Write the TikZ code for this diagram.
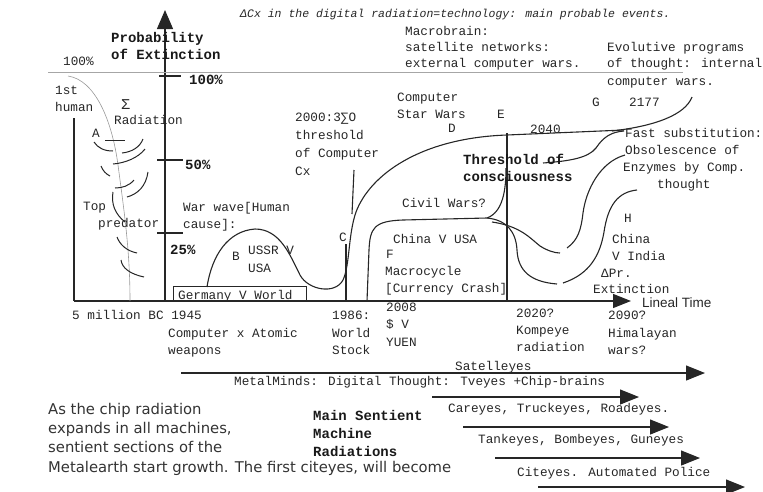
\documentclass[tikz,border=0pt]{standalone}
\usepackage{fontspec}
\setmainfont{Liberation Mono}
\newfontfamily\monofam{Liberation Mono}
\newfontfamily\sansfam{DejaVu Sans}
\newfontfamily\helvfam{Liberation Sans}
\usetikzlibrary{arrows.meta}
\begin{document}
\begin{tikzpicture}[x=1pt,y=-1pt,
  txt/.style={anchor=base west, inner sep=0pt, text=black!85, font=\monofam\fontsize{12.7}{15}\selectfont},
  txtb/.style={anchor=base west, inner sep=0pt, text=black!90, font=\monofam\bfseries\fontsize{14}{17}\selectfont},
  txti/.style={anchor=base west, inner sep=0pt, text=black!85, font=\monofam\itshape\fontsize{11.5}{14}\selectfont},
  txts/.style={anchor=base west, inner sep=0pt, text=black!80, font=\sansfam\fontsize{14.8}{15}\selectfont},
  txth/.style={anchor=base west, inner sep=0pt, text=black!85, font=\helvfam\fontsize{13.5}{15}\selectfont},
  ln/.style={line width=1.1pt, black!85},
  thin/.style={line width=0.5pt, black!35},
  sw/.style={line width=1pt, black!85},
  bigarrow/.style={line width=1.2pt, black!85, -{Triangle[length=19pt,width=15pt]}}
]
\useasboundingbox (0,0) rectangle (763,491);

% axes
\coordinate (vaxb) at (165,301);
\coordinate (vaxt) at (165,10);
\draw[line width=1.2pt, black!85, -{Triangle[length=19pt,width=16pt]}] (vaxb) -- (vaxt);
\coordinate (haxl) at (74,301);
\coordinate (haxr) at (631,301);
\draw[line width=1.2pt, black!85, -{Triangle[length=18pt,width=14pt]}] (haxl) -- (haxr);
\coordinate (lvt) at (74,118);
\draw[ln] (lvt) -- (haxl);
\coordinate (gl1) at (48,72);
\coordinate (gl2) at (683,72);
\draw[thin] (gl1) -- (gl2);

% ticks
\draw[ln] (159,76) -- (181,76);
\draw[ln] (157,160) -- (183,160);
\draw[ln] (157,233) -- (183,233);

% grey extinction curve
\draw[line width=0.6pt, black!40] (68,76) .. controls (95,80) and (112,120) .. (118,165) .. controls (124,210) and (130,250) .. (130,301);

% swirl arcs
\draw[sw] (105,140) -- (125,140);
\draw[sw] (94,142) .. controls (98,148) and (104,151) .. (113,151);
\draw[sw] (122,153) .. controls (132,152) and (140,147) .. (143,139);
\draw[sw] (113,164) .. controls (125,163) and (138,158) .. (145,149);
\draw[sw] (101,166) .. controls (103,171) and (106,174) .. (110,176);
\draw[sw] (115,188) .. controls (122,188) and (129,186) .. (134,180);
\draw[sw] (127,197) .. controls (138,194) and (146,186) .. (148,172);
\draw[sw] (113,192) .. controls (111,204) and (115,214) .. (125,222);
\draw[sw] (117,237) .. controls (120,245) and (127,251) .. (137,253);
\draw[sw] (121,260) .. controls (122,268) and (130,274) .. (144,277);

% Germany box
\node[draw, line width=1.2pt, black!85, inner sep=0pt, minimum width=133pt, minimum height=15pt, anchor=north west] (gbox) at (173,286) {};
\node[txt] (tger) at (178,299) {Germany V World};

% main curve
\draw[ln] (207,287) .. controls (212,255) and (228,231) .. (255,229)
  .. controls (280,229) and (290,255) .. (300,275)
  .. controls (308,290) and (335,295) .. (343,280)
  .. controls (350,265) and (348,235) .. (356,212)
  .. controls (370,175) and (420,138) .. (507,135)
  -- (624,130);
\draw[ln] (612,131) .. controls (655,126) and (685,115) .. (692,97);
% threshold curve
\draw[ln] (543,163) .. controls (570,161) and (588,158) .. (596,148)
  .. controls (604,136) and (612,132) .. (624,131);
% 1986 line
\draw[ln] (354,170) -- (352,214);
\draw[ln] (346,244) -- (346,301);
% 2020 line
\draw[ln] (507,133) -- (507,301);
% civil wars curve
\draw[ln] (506,168) .. controls (506,190) and (503,212) .. (487,218)
  -- (403,220) .. controls (374,221) and (370,228) .. (369,250) -- (367,301);
% lower branch
\draw[ln] (487,218) .. controls (507,220) and (516,232) .. (517,250)
  .. controls (518,272) and (532,282) .. (557,284);
\draw[ln] (563,283) .. controls (590,274) and (600,255) .. (604,232)
  .. controls (608,205) and (618,192) .. (637,190);
% upper branch
\draw[ln] (492,222) .. controls (520,226) and (530,238) .. (540,246)
  .. controls (548,251) and (555,253) .. (560,253);
\draw[ln] (567,248) .. controls (578,240) and (581,230) .. (583,213)
  .. controls (586,190) and (600,162) .. (625,155);

% bottom arrows
\coordinate (a1s) at (181,373); \coordinate (a1e) at (705,373);
\coordinate (a2s) at (432,397); \coordinate (a2e) at (639,397);
\coordinate (a3s) at (463,427); \coordinate (a3e) at (669,427);
\coordinate (a4s) at (495,458); \coordinate (a4e) at (700,458);
\coordinate (a5s) at (538,487); \coordinate (a5e) at (745,487);
\draw[bigarrow] (a1s) -- (a1e);
\draw[bigarrow] (a2s) -- (a2e);
\draw[bigarrow] (a3s) -- (a3e);
\draw[bigarrow] (a4s) -- (a4e);
\draw[bigarrow] (a5s) -- (a5e);

% texts top
\node[txti] (title) at (240,17) {ΔCx in the digital radiation=technology: main probable events.};
\node[txtb] (prob1) at (111,42) {Probability};
\node[txtb] (prob2) at (111,59) {of Extinction};
\node[txt] (p100) at (63,65) {100\%};
\node[txt] (first1) at (55,94) {1st};
\node[txt] (first2) at (55,111) {human};
\node[txt, font=\monofam\fontsize{15}{15}\selectfont] (sig) at (121,109) {Σ};
\node[txt] (rad) at (114,124) {Radiation};
\node[txt] (lA) at (92,137) {A};
\node[txtb] (t100) at (189,84) {100\%};
\node[txtb] (t50) at (185,169) {50\%};
\node[txtb] (t25) at (170,254) {25\%};
\node[txt] (top1) at (83,210) {Top};
\node[txt] (top2) at (98,227) {predator};
\node[txt] (war1) at (183,211) {War wave[Human};
\node[txt] (war2) at (183,228) {cause]:};
\node[txt] (lB) at (232,260) {B};
\node[txt] (ussr1) at (248,254) {USSR V};
\node[txt] (ussr2) at (248,272) {USA};
\node[txt] (y2000a) at (295,121) {2000:3∑O};
\node[txt] (y2000b) at (295,139) {threshold};
\node[txt] (y2000c) at (295,157) {of Computer};
\node[txt] (y2000d) at (295,175) {Cx};
\node[txt] (lC) at (339,241) {C};
\node[txt] (csw1) at (397,101) {Computer};
\node[txt] (csw2) at (397,118) {Star Wars};
\node[txt] (lD) at (448,132) {D};
\node[txt] (lE) at (497,118) {E};
\node[txt] (mac1) at (405,35) {Macrobrain:};
\node[txt] (mac2) at (405,51) {satellite networks:};
\node[txt] (mac3) at (405,67) {external computer wars.};
\node[txt] (evo1) at (607,51) {Evolutive programs};
\node[txt] (evo2) at (607,67) {of thought: internal};
\node[txt] (evo3) at (607,85) {computer wars.};
\node[txt] (lG) at (592,106) {G};
\node[txt] (y2177) at (629,106) {2177};
\node[txt] (y2040) at (530,133) {2040};
\node[txt] (fast1) at (625,137) {Fast substitution:};
\node[txt] (fast2) at (625,154) {Obsolescence of};
\node[txt] (fast3) at (623,171) {Enzymes by Comp.};
\node[txt] (fast4) at (657,188) {thought};
\node[txtb] (thr1) at (463,164) {Threshold of};
\node[txtb] (thr2) at (463,181) {consciousness};
\node[txt] (civ) at (402,207) {Civil Wars?};
\node[txt] (chusa) at (393,243) {China V USA};
\node[txt] (lF) at (386,258) {F};
\node[txt] (macro) at (385,275) {Macrocycle};
\node[txt] (crash) at (385,292) {[Currency Crash]};
\node[txt] (lH) at (624,222) {H};
\node[txt] (chin1) at (612,243) {China};
\node[txt] (chin2) at (612,260) {V India};
\node[txt] (chin3) at (601,277) {ΔPr.};
\node[txt] (chin4) at (593,293) {Extinction};
\node[txth] (lineal) at (642,307) {Lineal Time};

% texts below axis
\node[txt] (bc) at (72,319) {5 million BC 1945};
\node[txt] (cxa1) at (168,337) {Computer x Atomic};
\node[txt] (cxa2) at (168,354) {weapons};
\node[txt] (w1) at (332,319) {1986:};
\node[txt] (w2) at (332,337) {World};
\node[txt] (w3) at (332,354) {Stock};
\node[txt] (y08a) at (386,311) {2008};
\node[txt] (y08b) at (386,328) {\$ V};
\node[txt] (y08c) at (386,346) {YUEN};
\node[txt] (y20a) at (516,317) {2020?};
\node[txt] (y20b) at (516,334) {Kompeye};
\node[txt] (y20c) at (516,351) {radiation};
\node[txt] (y90a) at (608,319) {2090?};
\node[txt] (y90b) at (608,337) {Himalayan};
\node[txt] (y90c) at (608,354) {wars?};
\node[txt] (sat) at (455,370) {Satelleyes};
\node[txt] (mm) at (234,385) {MetalMinds: Digital Thought: Tveyes +Chip-brains};
\node[txt] (car) at (448,412) {Careyes, Truckeyes, Roadeyes.};
\node[txt] (tank) at (478,443) {Tankeyes, Bombeyes, Guneyes};
\node[txt] (cite) at (517,476) {Citeyes. Automated Police};
\node[txtb] (ms1) at (313,420) {Main Sentient};
\node[txtb] (ms2) at (313,438) {Machine};
\node[txtb] (ms3) at (313,456) {Radiations};
\node[txts] (par1) at (48,414) {As the chip radiation};
\node[txts] (par2) at (48,433) {expands in all machines,};
\node[txts] (par3) at (48,452) {sentient sections of the};
\node[txts] (par4) at (48,472) {Metalearth start growth. The first citeyes, will become};
\end{tikzpicture}
\end{document}
